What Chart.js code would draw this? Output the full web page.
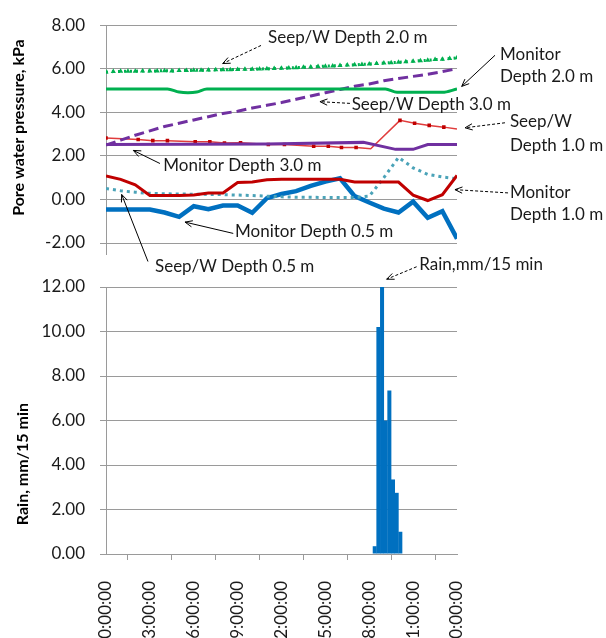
<!DOCTYPE html>
<html><head><meta charset="utf-8">
<script src="https://cdn.jsdelivr.net/npm/chart.js@4.4.1/dist/chart.umd.min.js"></script>
<style>
html,body{margin:0;padding:0;background:#fff;overflow:hidden;width:606px;height:638px;position:relative}
#c1{position:absolute;left:0;top:0}
#c2{position:absolute;left:0;top:250px}
</style></head><body>
<canvas id="c1" width="606" height="285"></canvas>
<canvas id="c2" width="606" height="430"></canvas>
<script>
// ---------- DATA ----------
const hourly = [0,1,2,3,4,5,6,7,8,9,10,11,12,13,14,15,16,17,18,19,20,21,22,23,24];

const seep20Hours = [0,0.5,1,1.5,2,2.5,3,3.5,4,4.5,5,5.5,6,6.5,7,7.5,8,8.5,9,9.5,10,10.5,11,11.5,12,12.5,13,13.5,14,14.5,15,15.5,16,16.5,17,17.5,18,18.5,19,19.5,20,20.5,21,21.5,22,22.5,23,23.5,24];
const seep20 = [5.85,5.87,5.88,5.88,5.89,5.9,5.9,5.9,5.91,5.9,5.92,5.92,5.93,5.93,5.94,5.95,5.95,5.96,5.97,5.98,5.98,5.99,6.0,6.01,6.02,6.04,6.05,6.07,6.08,6.1,6.12,6.13,6.15,6.17,6.18,6.2,6.22,6.24,6.26,6.28,6.3,6.32,6.35,6.37,6.39,6.42,6.44,6.47,6.5];

const monitor20Hours = [0,4.2,5.0,5.6,6.2,6.9,19.1,19.9,23.0,24];
const monitor20 = [5.07,5.07,4.93,4.9,4.93,5.07,5.07,4.92,4.92,5.07];

const seep30 = [2.5,2.72,2.95,3.15,3.35,3.5,3.65,3.8,3.95,4.05,4.2,4.32,4.45,4.6,4.75,4.9,5.05,5.2,5.3,5.45,5.55,5.65,5.75,5.87,6.0];

const seep10Hours = [0,2.2,3.2,4.2,6.1,7.1,8.1,9.2,11.1,12.2,14.2,15.2,16.1,17.1,18.1,20.1,21.1,22.1,23.1,24];
const seep10 = [2.82,2.75,2.7,2.7,2.65,2.65,2.59,2.6,2.52,2.52,2.44,2.44,2.38,2.38,2.33,3.63,3.5,3.4,3.32,3.23];
const seep10Marker = [1,1,1,1,1,1,1,1,1,1,1,1,1,1,0,1,1,1,1,0];

const monitor30Hours = [0,11,17.6,19.8,21,22,24];
const monitor30 = [2.52,2.55,2.62,2.3,2.3,2.52,2.52];

const monitor10 = [1.08,0.92,0.67,0.18,0.18,0.18,0.2,0.3,0.3,0.78,0.8,0.9,0.93,0.93,0.93,0.93,0.93,0.8,0.8,0.8,0.8,0.2,-0.05,0.22,1.1];

const seep05 = [0.5,0.4,0.33,0.28,0.26,0.25,0.24,0.23,0.22,0.2,0.18,0.15,0.12,0.1,0.1,0.09,0.09,0.09,0.15,1.0,1.93,1.45,1.15,1.03,0.95];

const monitor05 = [-0.46,-0.46,-0.46,-0.46,-0.6,-0.8,-0.31,-0.45,-0.28,-0.28,-0.61,0.06,0.25,0.38,0.62,0.82,0.97,0.15,-0.14,-0.42,-0.6,-0.1,-0.84,-0.54,-1.8];

const rainHours = [18.375,18.625,18.875,19.125,19.375,19.625,19.875,20.125];
const rain = [0.35,10.2,12.0,6.0,7.35,3.35,2.75,1.0];

const timeTickLabels = ["0:00:00","3:00:00","6:00:00","9:00:00","12:00:00","15:00:00","18:00:00","21:00:00","0:00:00"];

const pts = (xs, ys) => xs.map((x,i)=>({x:x, y:ys[i]}));

// ---------- annotations (data coordinates) ----------
const topNotes = [
  {lines:["Seep/W Depth 2.0 m"], tx:11.08, ty:[7.42], from:[10.6,7.07], to:[7.98,6.24], dash:true},
  {lines:["Monitor","Depth 2.0 m"], tx:26.94, ty:[6.65,5.65], from:[26.6,6.62], to:[24.32,5.19], dash:false},
  {lines:["Seep/W Depth 3.0 m"], tx:16.8, ty:[4.34], from:[16.68,4.41], to:[14.63,4.49], dash:true},
  {lines:["Seep/W","Depth 1.0 m"], tx:27.62, ty:[3.59,2.47], from:[27.28,3.52], to:[24.55,3.29], dash:true},
  {lines:["Monitor Depth 3.0 m"], tx:3.92, ty:[1.57], from:[3.69,1.65], to:[1.87,2.25], dash:false},
  {lines:["Monitor","Depth 1.0 m"], tx:27.62, ty:[0.33,-0.67], from:[27.49,0.3], to:[23.86,0.45], dash:true},
  {lines:["Monitor Depth 0.5 m"], tx:8.82, ty:[-1.49], from:[8.7,-1.56], to:[5.4,-1.04], dash:false},
  {lines:["Seep/W Depth 0.5 m"], tx:3.35, ty:[-3.06], from:[2.87,-2.85], to:[1.07,0.23], dash:false}
];
const bottomNotes = [
  {lines:["Rain,mm/15 min"], tx:21.42, ty:[12.99], from:[21.24,12.91], to:[19.19,12.35], dash:true}
];

const FONT = 'Lato, "Open Sans", sans-serif';
const TXT = '#1a1a1a';
const GRID = '#9a9a9a';

const notePlugin = {
  id:'notes',
  afterDraw(chart, args, opts){
    const ctx = chart.ctx, xs = chart.scales.x, ys = chart.scales.y;
    ctx.save();
    if (opts.axisExtend){
      const ca = chart.chartArea;
      ctx.strokeStyle=GRID; ctx.lineWidth=1;
      ctx.beginPath(); ctx.moveTo(ca.left+0.5, ca.bottom); ctx.lineTo(ca.left+0.5, ca.bottom+opts.axisExtend); ctx.stroke();
    }
    (opts.items||[]).forEach(a=>{
      const x1=xs.getPixelForValue(a.from[0]), y1=ys.getPixelForValue(a.from[1]);
      const x2=xs.getPixelForValue(a.to[0]), y2=ys.getPixelForValue(a.to[1]);
      ctx.strokeStyle='#000'; ctx.lineWidth=1; ctx.setLineDash(a.dash?[3,2]:[]);
      ctx.beginPath(); ctx.moveTo(x1,y1); ctx.lineTo(x2,y2); ctx.stroke();
      ctx.setLineDash([]);
      const ang=Math.atan2(y2-y1,x2-x1), L=8;
      ctx.beginPath();
      ctx.moveTo(x2 - L*Math.cos(ang-0.4), y2 - L*Math.sin(ang-0.4));
      ctx.lineTo(x2,y2);
      ctx.lineTo(x2 - L*Math.cos(ang+0.4), y2 - L*Math.sin(ang+0.4));
      ctx.stroke();
      ctx.fillStyle=TXT; ctx.font='17px '+FONT; ctx.textBaseline='middle'; ctx.textAlign='left';
      const tx=xs.getPixelForValue(a.tx);
      a.lines.forEach((l,i)=> ctx.fillText(l, tx, ys.getPixelForValue(a.ty[i])));
    });
    if (opts.title){
      ctx.translate(opts.title.x, ys.getPixelForValue(opts.title.center));
      ctx.rotate(-Math.PI/2);
      ctx.fillStyle='#000'; ctx.font='bold 16px '+FONT; ctx.textAlign='center'; ctx.textBaseline='middle';
      ctx.fillText(opts.title.text, 0, 0);
    }
    ctx.restore();
  }
};

const yTicks = {color:TXT, font:{size:17, family:FONT}, padding:15, callback:v=>Number(v).toFixed(2)};

new Chart(document.getElementById('c1'), {
  type:'line',
  data:{datasets:[
    {label:'Seep/W Depth 2.0 m', data:pts(seep20Hours,seep20), borderColor:'#00B050', backgroundColor:'#00B050', borderWidth:3, borderDash:[2,4], pointStyle:'triangle', pointRadius:3, pointBorderWidth:0},
    {label:'Monitor Depth 2.0 m', data:pts(monitor20Hours,monitor20), borderColor:'#00B050', borderWidth:3, pointRadius:0, cubicInterpolationMode:'monotone'},
    {label:'Seep/W Depth 3.0 m', data:pts(hourly,seep30), borderColor:'#7030A0', borderWidth:3, borderDash:[10,5], pointRadius:0},
    {label:'Monitor Depth 3.0 m', data:pts(monitor30Hours,monitor30), borderColor:'#7030A0', borderWidth:3, pointRadius:0},
    {label:'Seep/W Depth 1.0 m', data:pts(seep10Hours,seep10), borderColor:'#E03C3C', backgroundColor:'#C00000', borderWidth:1.5, pointStyle:'rect', pointRadius:seep10Marker.map(m=>m?2.5:0), pointBorderWidth:0},
    {label:'Monitor Depth 1.0 m', data:pts(hourly,monitor10), borderColor:'#C00000', borderWidth:3, pointRadius:0},
    {label:'Seep/W Depth 0.5 m', data:pts(hourly,seep05), borderColor:'#4BA3B8', borderWidth:3, borderDash:[3,4], pointRadius:0},
    {label:'Monitor Depth 0.5 m', data:pts(hourly,monitor05), borderColor:'#0070C0', borderWidth:4.5, pointRadius:0}
  ]},
  options:{
    responsive:false, animation:false, devicePixelRatio:1,
    layout:{padding:{top:20, right:149, bottom:42, left:0}},
    plugins:{legend:{display:false}, tooltip:{enabled:false},
      notes:{items:topNotes, axisExtend:12, title:{text:'Pore water pressure, kPa', x:19, center:3.3}}},
    scales:{
      x:{type:'linear', min:0, max:24, display:false},
      y:{min:-2, max:8, afterFit:s=>{s.width=106;},
         ticks:{...yTicks, stepSize:2},
         grid:{color:GRID, tickLength:6}, border:{color:GRID}}
    }
  },
  plugins:[notePlugin]
});

new Chart(document.getElementById('c2'), {
  type:'bar',
  data:{datasets:[
    {label:'Rain,mm/15 min', data:pts(rainHours,rain), backgroundColor:'#0070C0', barPercentage:1.1, categoryPercentage:1, borderWidth:0}
  ]},
  options:{
    responsive:false, animation:false, devicePixelRatio:1,
    layout:{padding:{top:37, right:149, bottom:0, left:0}},
    plugins:{legend:{display:false}, tooltip:{enabled:false},
      notes:{items:bottomNotes, title:{text:'Rain, mm/15 min', x:22.5, center:4.04}}},
    scales:{
      x:{type:'linear', min:0, max:24, offset:false, afterFit:s=>{s.height=126;},
         ticks:{stepSize:3, autoSkip:false, minRotation:90, maxRotation:90, padding:21, color:TXT, font:{size:17, family:FONT},
                callback:(v,i)=>timeTickLabels[i]},
         grid:{drawOnChartArea:false, color:GRID, tickLength:6}, border:{color:GRID}},
      y:{min:0, max:12, afterFit:s=>{s.width=106;},
         ticks:{...yTicks, stepSize:2},
         grid:{color:GRID, tickLength:6}, border:{color:GRID}}
    }
  },
  plugins:[notePlugin]
});
</script>
</body></html>
